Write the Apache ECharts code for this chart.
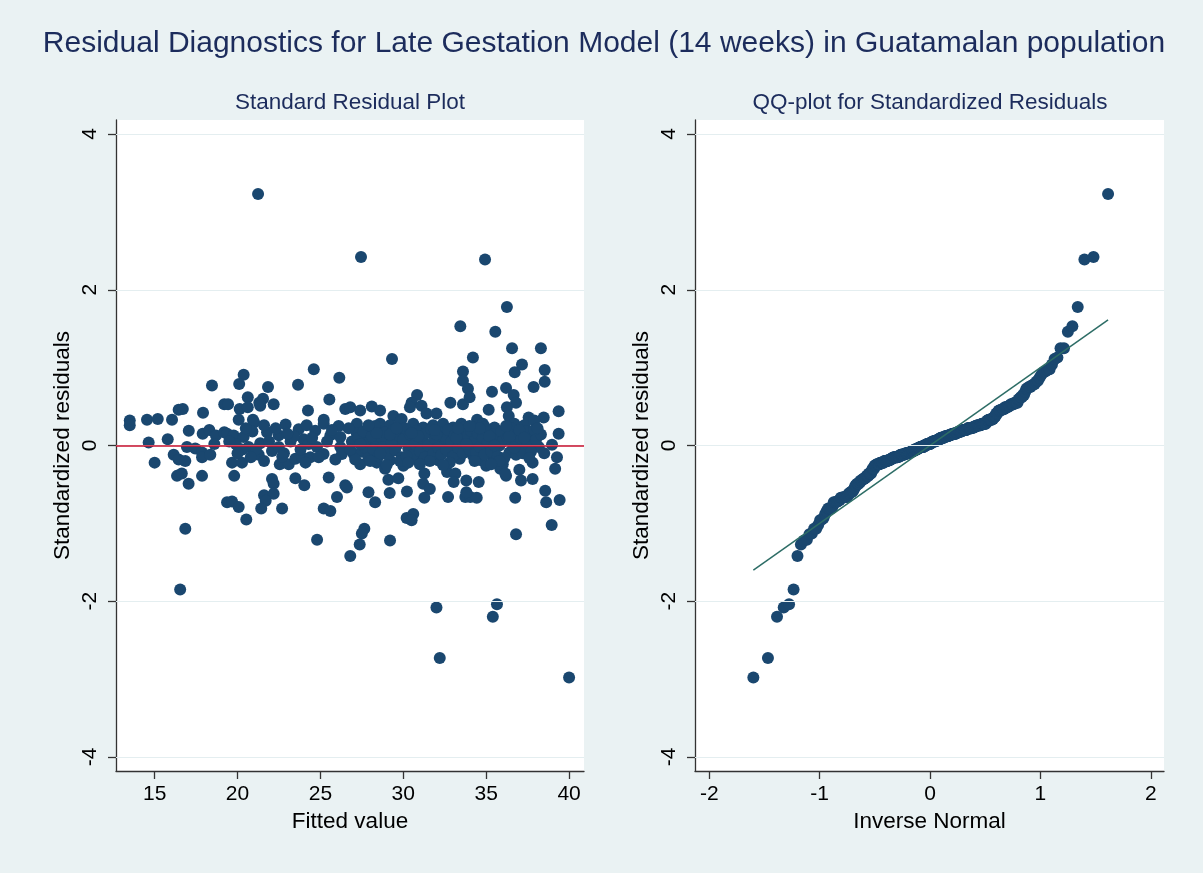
<!DOCTYPE html>
<html>
<head>
<meta charset="utf-8">
<title>Residual Diagnostics</title>
<script src="https://cdn.jsdelivr.net/npm/echarts@6/dist/echarts.min.js"></script>
<style>
  html, body { margin: 0; padding: 0; background: #eaf2f3; }
  #main { width: 1203px; height: 873px; }
</style>
</head>
<body>
<div id="main"></div>
<script>
// tick labels
const yTicks = [-4, -2, 0, 2, 4];
const fittedTicks = [15, 20, 25, 30, 35, 40];
const normalTicks = [-2, -1, 0, 1, 2];

// [fitted value, standardized residual]
const residualPoints = [
  // 13 - 19
  [13.5, 0.32], [13.5, 0.26], [14.54, 0.33], [15.19, 0.34], [16.05, 0.33], [16.45, 0.46], [16.7, 0.47],
  [17.92, 0.42], [18.46, 0.77], [19.2, 0.53], [17.06, 0.19], [17.9, 0.15], [18.3, 0.2], [18.7, 0.13],
  [19.2, 0.17], [14.64, 0.04], [15.79, 0.08], [15.0, -0.22], [16.15, -0.12], [16.45, -0.18], [16.85, -0.2],
  [16.95, -0.02], [17.45, -0.04], [17.86, -0.09], [17.86, -0.15], [18.36, -0.12], [16.35, -0.39],
  [16.64, -0.36], [17.05, -0.49], [17.86, -0.39], [16.85, -1.07], [19.37, -0.73], [16.54, -1.85], [18.6, 0.02],
  // 19 - 26.5
  [20.37, 0.91], [20.1, 0.79], [21.84, 0.75], [20.62, 0.62], [21.54, 0.6], [21.31, 0.55], [21.37, 0.51],
  [22.18, 0.53], [20.13, 0.47], [20.62, 0.49], [19.43, 0.53], [23.65, 0.78], [24.6, 0.98], [26.14, 0.87],
  [25.54, 0.59], [24.25, 0.45], [25.2, 0.33], [26.5, 0.47], [20.07, 0.33], [20.93, 0.33],
  [19.37, 0.15], [19.77, 0.13], [20.37, 0.11], [20.67, -0.02], [21.78, 0.17], [22.49, 0.13], [21.37, 0.03],
  [21.28, -0.12], [22.08, -0.07], [22.49, -0.02], [19.67, -0.22], [20.27, -0.22], [22.55, -0.24],
  [23.09, -0.24], [23.49, -0.17], [23.89, -0.15], [24.39, -0.15], [23.69, 0.21], [24.17, 0.26], [24.69, 0.19],
  [25.2, 0.28], [23.99, 0.08], [24.29, 0.02], [24.79, -0.02], [25.19, -0.11], [25.6, 0.13], [26.2, 0.11],
  [26.2, -0.02], [26.3, -0.11], [19.8, -0.39], [22.08, -0.43], [22.18, -0.49], [23.49, -0.42], [24.03, -0.51],
  [25.5, -0.41], [21.6, -0.64], [22.18, -0.62], [21.7, -0.71], [19.67, -0.72], [20.07, -0.79], [21.43, -0.81],
  [22.69, -0.81], [25.2, -0.81], [25.6, -0.84], [26.0, -0.66], [26.5, -0.51], [20.53, -0.95], [24.8, -1.21],
  [21.24, 3.23], [21.0, 0.3], [21.6, 0.26], [22.9, 0.27], [23.2, 0.05], [22.8, -0.1], [20.9, 0.18], [19.9, 0.02],
  [20.3, -0.05], [19.5, 0.05], [20.0, -0.1], [20.5, 0.22], [21.1, -0.05], [21.9, 0.05], [22.3, 0.22],
  [22.7, -0.14], [23.4, 0.12], [23.8, -0.05], [24.5, 0.1], [24.9, -0.15], [25.4, 0.05], [25.9, -0.18],
  [26.1, 0.25], [25.7, 0.2], [23.0, 0.15], [24.1, -0.22], [21.6, -0.2], [20.8, -0.15],
  // 26.5 - 33.5
  [33.44, 1.53], [29.32, 1.11], [33.6, 0.95], [33.6, 0.83], [32.84, 0.55], [30.83, 0.65], [30.5, 0.55],
  [30.4, 0.49], [26.8, 0.49], [27.4, 0.45], [28.1, 0.5], [28.6, 0.45], [29.4, 0.38], [29.9, 0.34], [31.1, 0.51],
  [31.4, 0.41], [32.0, 0.41], [33.6, 0.53],
  [26.6, -0.54], [27.9, -0.6], [28.3, -0.73], [29.1, -0.44], [29.7, -0.42], [29.18, -0.61], [30.22, -0.59],
  [31.27, -0.36], [31.2, -0.49], [31.6, -0.56], [31.27, -0.67], [32.64, -0.34], [33.14, -0.36], [33.04, -0.47],
  [32.7, -0.66], [33.74, -0.66], [30.2, -0.93], [30.6, -0.88], [30.5, -0.96], [27.65, -1.07], [27.5, -1.13],
  [27.37, -1.27], [29.2, -1.22], [26.8, -1.42],
  [27.0, -0.11], [27.4, -0.24], [28.4, -0.22], [29.2, -0.19], [30.0, -0.26], [30.9, -0.19], [32.1, -0.19],
  [33.4, -0.17], [27.2, 0.28], [27.2, 0.15], [28.0, 0.23], [28.6, 0.28], [29.2, 0.26], [29.8, 0.3], [30.6, 0.28],
  [31.2, 0.23], [31.8, 0.26], [32.4, 0.28], [33.0, 0.23], [33.5, 0.28], [27.8, 0.06], [28.4, 0.02], [29.0, 0.08],
  [29.6, 0.0], [30.2, 0.04], [31.2, 0.06], [31.8, 0.0], [32.4, 0.06], [33.2, 0.0], [27.5, -0.08], [28.1, -0.1],
  [29.0, -0.07], [30.5, -0.1], [31.6, -0.08], [32.8, -0.09], [28.9, -0.3], [27.45, 2.42], [32.0, -2.08],
  [32.2, -2.73],
  // 33.5 - 41
  [36.25, 1.78], [35.55, 1.46], [36.56, 1.25], [38.3, 1.25], [34.2, 1.13], [37.16, 1.04], [36.72, 0.94],
  [38.53, 0.97], [38.53, 0.82], [37.86, 0.75], [36.2, 0.74], [35.35, 0.69], [36.66, 0.65], [36.8, 0.55],
  [33.9, 0.73], [34.0, 0.62], [35.15, 0.46], [36.25, 0.49], [36.36, 0.38], [39.37, 0.44], [37.56, 0.36],
  [38.47, 0.36], [34.45, 0.33],
  [39.37, 0.15], [38.97, 0.01], [39.27, -0.15], [39.16, -0.3], [37.8, -0.22], [37.0, -0.31], [36.2, -0.39],
  [37.1, -0.45], [37.8, -0.43], [34.55, -0.47], [33.8, -0.45], [34.04, -0.66], [34.43, -0.67], [36.75, -0.67],
  [38.56, -0.58], [38.62, -0.73], [39.43, -0.7], [38.95, -1.02], [36.8, -1.14],
  [34.2, 0.23], [34.8, 0.28], [35.5, 0.23], [36.1, 0.15], [36.7, 0.28], [37.3, 0.26], [37.9, 0.32],
  [37.66, 0.11], [38.17, -0.02], [34.1, 0.0], [34.7, 0.06], [35.2, -0.02], [35.8, 0.0], [36.4, -0.09],
  [37.0, -0.04], [34.2, -0.13], [34.7, -0.19], [35.4, -0.15], [36.0, -0.24], [35.0, -0.26], [35.85, -0.3],
  [36.15, -0.36], [33.8, -0.07], [33.8, -0.6], [34.93, 2.39], [35.65, -2.04], [35.4, -2.2], [40.0, -2.98],
  // dense band, points mostly hidden behind each other
  [26.7, 0.22], [26.9, 0.05], [27.1, -0.18], [27.3, 0.1], [27.6, 0.18], [27.7, -0.03], [27.9, -0.16],
  [28.1, 0.12], [28.2, -0.05], [28.3, 0.25], [28.5, -0.14], [28.7, 0.1], [28.8, -0.02], [28.9, 0.17],
  [29.1, -0.12], [29.3, 0.04], [29.4, 0.2], [29.5, -0.06], [29.7, 0.13], [29.9, -0.15], [30.0, 0.08],
  [30.1, 0.22], [30.3, -0.04], [30.4, 0.14], [30.6, -0.12], [30.7, 0.02], [30.8, 0.19], [31.0, -0.07],
  [31.1, 0.1], [31.3, -0.15], [31.4, 0.16], [31.5, 0.0], [31.7, 0.21], [31.8, -0.11], [31.9, 0.09],
  [32.1, -0.03], [32.2, 0.17], [32.3, -0.12], [32.5, 0.12], [32.6, -0.05], [32.7, 0.2], [32.9, 0.05],
  [33.0, -0.14], [33.1, 0.13], [33.3, -0.03], [33.4, 0.18], [33.5, 0.07], [33.6, -0.1], [33.7, 0.24],
  [33.9, 0.12], [34.0, -0.05], [34.1, 0.18], [34.3, 0.06], [34.4, -0.09], [34.5, 0.15], [34.6, -0.02],
  [34.8, 0.1], [34.9, -0.12], [35.0, 0.2], [35.1, 0.04], [35.3, -0.08], [35.4, 0.14], [35.6, 0.08],
  [35.7, -0.14], [35.9, 0.18], [36.0, 0.05], [36.1, -0.16], [36.3, 0.1], [36.5, 0.22], [36.6, 0.02],
  [36.8, -0.12], [36.9, 0.15], [37.1, 0.07], [37.2, -0.1], [37.4, 0.18], [37.5, 0.02], [37.7, -0.08],
  [37.9, 0.2], [38.0, 0.07], [38.3, 0.14], [38.5, -0.1], [26.8, -0.05], [27.4, 0.02], [28.0, -0.2],
  [28.6, -0.1], [29.2, 0.14], [29.8, -0.2], [30.2, -0.14], [30.9, 0.12], [31.6, -0.2], [32.0, 0.14],
  [32.8, -0.22], [33.2, 0.1], [33.8, 0.02], [34.3, -0.2], [34.9, 0.24], [35.2, 0.12], [35.8, -0.2],
  [36.4, 0.12], [37.0, 0.2], [37.6, -0.16], [38.1, 0.22], [34.6, 0.22], [35.5, 0.0], [36.7, -0.03],
  [37.3, 0.1], [30.5, 0.16], [31.9, 0.2], [29.6, 0.22], [28.4, 0.16], [27.9, 0.26], [33.3, 0.22],
  [32.4, -0.25], [31.0, -0.24], [30.3, -0.22], [29.0, -0.25], [36.2, 0.25], [35.3, -0.24], [34.0, 0.25]
];

// inverse normal (Acklam)
function invNorm(p) {
  const a = [-39.69683028665376, 220.9460984245205, -275.9285104469687, 138.3577518672690, -30.66479806614716, 2.506628277459239];
  const b = [-54.47609879822406, 161.5858368580409, -155.6989798598866, 66.80131188771972, -13.28068155288572];
  const c = [-0.007784894002430293, -0.3223964580411365, -2.400758277161838, -2.549732539343734, 4.374664141464968, 2.938163982698783];
  const d = [0.007784695709041462, 0.3224671290700398, 2.445134137142996, 3.754408661907416];
  const pl = 0.02425;
  let q, r;
  if (p < pl) {
    q = Math.sqrt(-2 * Math.log(p));
    return (((((c[0] * q + c[1]) * q + c[2]) * q + c[3]) * q + c[4]) * q + c[5]) / ((((d[0] * q + d[1]) * q + d[2]) * q + d[3]) * q + 1);
  }
  if (p > 1 - pl) {
    q = Math.sqrt(-2 * Math.log(1 - p));
    return -(((((c[0] * q + c[1]) * q + c[2]) * q + c[3]) * q + c[4]) * q + c[5]) / ((((d[0] * q + d[1]) * q + d[2]) * q + d[3]) * q + 1);
  }
  q = p - 0.5;
  r = q * q;
  return (((((a[0] * r + a[1]) * r + a[2]) * r + a[3]) * r + a[4]) * r + a[5]) * q / (((((b[0] * r + b[1]) * r + b[2]) * r + b[3]) * r + b[4]) * r + 1);
}

// qnorm: sorted residuals vs normal quantiles with same mean / sd
const resid = residualPoints.map(p => p[1]).sort((a, b) => a - b);
const n = resid.length;
const mean = resid.reduce((s, v) => s + v, 0) / n;
const sd = Math.sqrt(resid.reduce((s, v) => s + (v - mean) * (v - mean), 0) / (n - 1));
const qqPoints = resid.map((v, i) => [mean + sd * invNorm((i + 1) / (n + 1)), v]);
const qqLine = [[qqPoints[0][0], qqPoints[0][0]], [qqPoints[n - 1][0], qqPoints[n - 1][0]]];

const FONT = '"Liberation Sans", Arial, Helvetica, sans-serif';
const navy = '#1a476f';
const gridColor = '#e4eef0';

function xAxisOf(idx, min, max, ticks, name) {
  return {
    type: 'value', gridIndex: idx, min: min, max: max, name: name,
    nameLocation: 'middle', nameGap: 37,
    nameTextStyle: { fontFamily: FONT, fontSize: 22.5, color: '#000' },
    axisLine: { onZero: false, lineStyle: { color: '#333', width: 1.3 } },
    axisTick: { customValues: ticks, length: 8, lineStyle: { color: '#333', width: 1.3 } },
    axisLabel: { customValues: ticks, fontFamily: FONT, fontSize: 21, color: '#000', margin: 13 },
    splitLine: { show: false }
  };
}
function yAxisOf(idx) {
  return {
    type: 'value', gridIndex: idx, min: -4.18, max: 4.18, name: 'Standardized residuals',
    nameLocation: 'middle', nameGap: 42, nameRotate: 90,
    nameTextStyle: { fontFamily: FONT, fontSize: 22.5, color: '#000' },
    axisLine: { show: true, onZero: false, lineStyle: { color: '#333', width: 1.3 } },
    axisTick: { show: true, customValues: yTicks, length: 8, lineStyle: { color: '#333', width: 1.3 } },
    axisLabel: { customValues: yTicks, rotate: 90, fontFamily: FONT, fontSize: 21, color: '#000', margin: 15 },
    splitLine: { show: false }
  };
}
function gridLines(idx) {
  return {
    type: 'line', xAxisIndex: idx, yAxisIndex: idx, data: [], silent: true, z: 1,
    markLine: {
      silent: true, symbol: 'none', label: { show: false },
      lineStyle: { color: gridColor, width: 1.2, type: 'solid' },
      data: yTicks.map(v => ({ yAxis: v }))
    }
  };
}

const chart = echarts.init(document.getElementById('main'));
const option = {
  backgroundColor: '#eaf2f3',
  animation: false,
  graphic: [
    { type: 'text', x: 604, y: 44, style: { text: 'Residual Diagnostics for Late Gestation Model (14 weeks) in Guatamalan population', fill: '#1c2c5c', font: '30px ' + FONT, textAlign: 'center', textVerticalAlign: 'middle' } },
    { type: 'text', x: 350, y: 103, style: { text: 'Standard Residual Plot', fill: '#1c2c5c', font: '22.5px ' + FONT, textAlign: 'center', textVerticalAlign: 'middle' } },
    { type: 'text', x: 930, y: 103, style: { text: 'QQ-plot for Standardized Residuals', fill: '#1c2c5c', font: '22.5px ' + FONT, textAlign: 'center', textVerticalAlign: 'middle' } }
  ],
  grid: [
    { left: 116, top: 120, width: 468, height: 651, show: true, backgroundColor: '#fff', borderWidth: 0 },
    { left: 695, top: 120, width: 469, height: 651, show: true, backgroundColor: '#fff', borderWidth: 0 }
  ],
  xAxis: [
    xAxisOf(0, 12.67, 40.9, fittedTicks, 'Fitted value'),
    xAxisOf(1, -2.13, 2.12, normalTicks, 'Inverse Normal')
  ],
  yAxis: [yAxisOf(0), yAxisOf(1)],
  series: [
    gridLines(0),
    gridLines(1),
    {
      // zero line
      type: 'line', xAxisIndex: 0, yAxisIndex: 0, data: [], silent: true, z: 2,
      markLine: {
        silent: true, symbol: 'none', label: { show: false },
        lineStyle: { color: '#c8102e', width: 1.5, type: 'solid' },
        data: [{ yAxis: 0 }]
      }
    },
    {
      type: 'scatter', xAxisIndex: 0, yAxisIndex: 0, data: residualPoints, z: 3,
      symbol: 'circle', symbolSize: 12, itemStyle: { color: navy, opacity: 1 }
    },
    {
      type: 'scatter', xAxisIndex: 1, yAxisIndex: 1, data: qqPoints, z: 3,
      symbol: 'circle', symbolSize: 12, itemStyle: { color: navy, opacity: 1 }
    },
    {
      type: 'line', xAxisIndex: 1, yAxisIndex: 1, data: qqLine, z: 4,
      showSymbol: false, symbol: 'none', lineStyle: { color: '#2d6d66', width: 1.5 }
    }
  ]
};
chart.setOption(option);
</script>
</body>
</html>
